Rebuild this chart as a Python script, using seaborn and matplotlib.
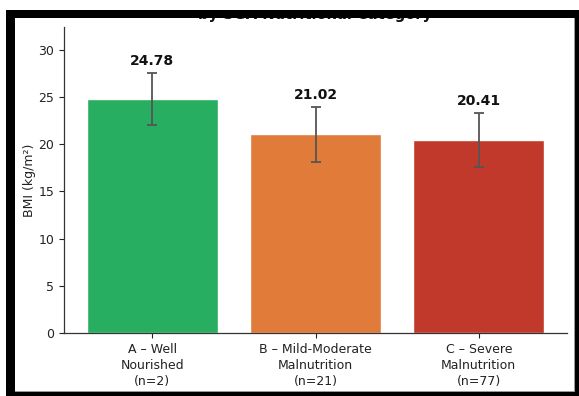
import matplotlib
matplotlib.use("Agg")
import matplotlib.pyplot as plt
from matplotlib.patches import Rectangle
import seaborn as sns
import pandas as pd

# Mean BMI and standard deviation per SGA category
categories = ["A – Well\nNourished\n(n=2)",
              "B – Mild-Moderate\nMalnutrition\n(n=21)",
              "C – Severe\nMalnutrition\n(n=77)"]
mean_bmi = [24.78, 21.02, 20.41]
sd_bmi = [2.78, 2.87, 2.85]
bar_colors = ["#27ae60", "#e07b39", "#c0392b"]

sns.set_style("white")
plt.rcParams["font.family"] = ["DejaVu Sans"]

W, H = 579, 396
fig = plt.figure(figsize=(W / 100, H / 100), dpi=100)
ax = fig.add_axes([64 / W, 1 - 333 / H, (567 - 64) / W, (333 - 27) / H])

df = pd.DataFrame({"category": categories, "bmi": mean_bmi})
sns.barplot(data=df, x="category", y="bmi", hue="category",
            palette=bar_colors, legend=False, errorbar=None,
            width=0.8, ax=ax, saturation=1)

xpos = range(len(categories))
ax.errorbar(xpos, mean_bmi, yerr=sd_bmi, fmt="none", ecolor="#555555",
            elinewidth=1.3, capsize=3.5, capthick=1.3, zorder=3)

for x, m, s in zip(xpos, mean_bmi, sd_bmi):
    ax.text(x, m + s + 0.55, f"{m:.2f}", ha="center", va="bottom",
            fontsize=10, fontweight="bold", color="#111111")

ax.set_ylim(0, 32.4)
ax.set_yticks([0, 5, 10, 15, 20, 25, 30])
ax.set_xlabel("")
ax.set_ylabel("BMI (kg/m²)", fontsize=9, color="#222222", labelpad=1.5)
ax.tick_params(axis="both", labelsize=9, colors="#222222", length=3.5,
               width=0.8, left=True, bottom=True)
for lbl in ax.get_xticklabels():
    lbl.set_linespacing(1.3)
sns.despine(ax=ax)
for side in ("left", "bottom"):
    ax.spines[side].set_color("#333333")
    ax.spines[side].set_linewidth(0.9)

# Second title line, its top hidden under the frame
fig.text(315.5 / W, 1 - 18.5 / H, "by SGA Nutritional Category",
         ha="center", va="baseline", fontsize=10.5, fontweight="bold",
         color="#111111")

# Frame around the figure
def px_rect(x0, y0, x1, y1, color, z=20):
    fig.add_artist(Rectangle((x0 / W, 1 - y1 / H), (x1 - x0) / W, (y1 - y0) / H,
                             transform=fig.transFigure, facecolor=color,
                             edgecolor="none", zorder=z))

px_rect(0, 0, W, 10, "white")
px_rect(0, 0, 6, H, "white")
px_rect(6, 10, W, 18, "black")
px_rect(6, 10, 15, H, "black")
px_rect(575, 10, W, H, "black")
px_rect(6, 392, W, H, "black")
px_rect(573.5, 18, 575, 392, "#999999", z=19)
px_rect(15, 390.5, 575, 392, "#999999", z=19)

fig.savefig("out.png", dpi=100)
